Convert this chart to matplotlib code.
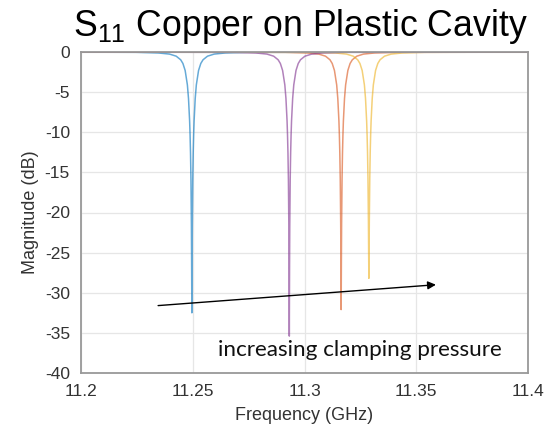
import matplotlib.pyplot as plt
import numpy as np

# === Data ===

# resonance centres (GHz) and one-sided dip profiles (offset from centre, GHz)
dip_offset_ghz = [0, 0.0001, 0.0002, 0.0004, 0.0006, 0.0008, 0.001, 0.0015,
                  0.002, 0.003, 0.004, 0.005, 0.007, 0.01, 0.015, 0.025]

blue_center = 11.2496
blue_db = [-32.5, -26.6, -21.6, -15.9, -12.6, -10.3, -8.6, -5.8,
           -4.1, -2.3, -1.43, -0.97, -0.52, -0.26, -0.12, -0.04]

orange_center = 11.3164
orange_db = [-32.1, -26.4, -21.5, -15.9, -12.6, -10.3, -8.6, -5.8,
             -4.1, -2.3, -1.43, -0.97, -0.52, -0.26, -0.12, -0.04]

yellow_center = 11.3288
yellow_db = [-28.2, -25.0, -21.0, -15.75, -12.5, -10.3, -8.6, -5.8,
             -4.1, -2.3, -1.43, -0.97, -0.52, -0.26, -0.12, -0.04]

purple_center = 11.2932
purple_db = [-35.4, -27.3, -21.8, -15.9, -12.6, -10.3, -8.6, -5.8,
             -4.1, -2.3, -1.43, -0.97, -0.52, -0.26, -0.12, -0.04]

baseline_db = -0.02
freq_min, freq_max = 11.2, 11.4

arrow_start = (11.2345, -31.6)
arrow_end = (11.3588, -29.0)

x_ticks = [11.2, 11.25, 11.3, 11.35, 11.4]
x_tick_labels = ["11.2", "11.25", "11.3", "11.35", "11.4"]
y_ticks = [-40, -35, -30, -25, -20, -15, -10, -5, 0]


def full_curve(center, profile):
    off = np.array(dip_offset_ghz)
    db = np.array(profile)
    f = np.concatenate(([freq_min], center - off[::-1], center + off[1:], [freq_max]))
    m = np.concatenate(([baseline_db], db[::-1], db[1:], [baseline_db]))
    return f, m


plt.rcParams['font.family'] = ['Liberation Sans', 'DejaVu Sans']
plt.rcParams['axes.unicode_minus'] = False
plt.rcParams['mathtext.fontset'] = 'custom'
plt.rcParams['mathtext.rm'] = 'Liberation Sans'
plt.rcParams['mathtext.it'] = 'Liberation Sans:italic'

fig = plt.figure(figsize=(5.45, 4.28), dpi=100)
ax = fig.add_axes([81 / 545, 1 - 373 / 428, 447 / 545, 321 / 428])

# MATLAB default order: blue, orange, yellow, purple
curves = [
    (blue_center, blue_db, "#0072BD"),
    (orange_center, orange_db, "#D95319"),
    (yellow_center, yellow_db, "#EDB120"),
    (purple_center, purple_db, "#7E2F8E"),
]
for c, prof, col in curves:
    f, m = full_curve(c, prof)
    ax.plot(f, m, color=col, lw=1.1, alpha=0.6, solid_joinstyle='round')

ax.set_xlim(freq_min, freq_max)
ax.set_ylim(-40, 0)
ax.set_xticks(x_ticks)
ax.set_xticklabels(x_tick_labels)
ax.set_yticks(y_ticks)
ax.grid(True, color="#e6e6e6", lw=0.9)
ax.set_axisbelow(True)
for s in ax.spines.values():
    s.set_color("#999999")
    s.set_linewidth(1.3)
ax.tick_params(colors="#999999", labelcolor="#333333", labelsize=12.5,
               direction='in', length=0, width=0.8)
ax.tick_params(axis='x', pad=8)
ax.tick_params(axis='y', pad=8)

ax.set_xlabel("Frequency (GHz)", fontsize=13, color="#333333", labelpad=6)
ax.set_ylabel("Magnitude (dB)", fontsize=13, color="#333333", labelpad=4)

fig.text(300 / 545, 1 - 27 / 428, "S$_{11}$ Copper on Plastic Cavity", fontsize=25.7,
         ha='center', va='center', color='black')

ax.annotate("", xy=arrow_end, xytext=arrow_start,
            arrowprops=dict(arrowstyle='-|>', color='black', lw=1.0,
                            mutation_scale=12, shrinkA=0, shrinkB=0))
ax.text(11.2613, -37.1, "increasing clamping pressure", fontsize=16.2,
        family=['Lato', 'DejaVu Sans'], color='#111111', ha='left', va='center')

plt.savefig("out.png", dpi=100)
